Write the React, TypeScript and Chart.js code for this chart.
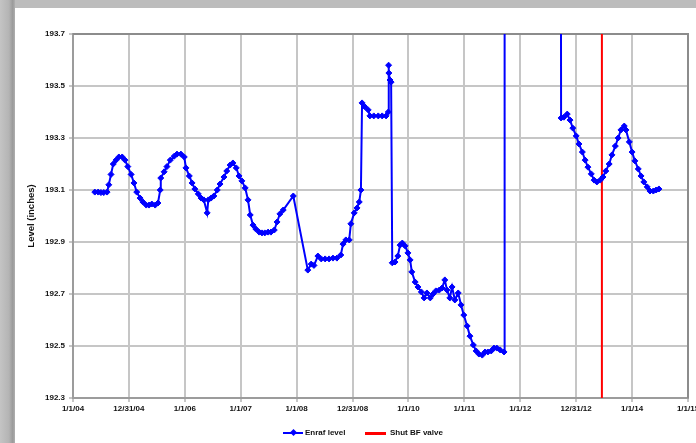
import React, { useEffect, useRef } from "react";
import { Chart, registerables } from "chart.js";

Chart.register(...registerables);

// Decimal years and levels (inches)
const enrafYears = [
  2004.39, 2004.45, 2004.5, 2004.55, 2004.61, 2004.64, 2004.68, 2004.72, 2004.77, 2004.82,
  2004.88, 2004.93, 2004.98, 2005.04, 2005.09, 2005.14, 2005.2, 2005.25, 2005.31, 2005.36,
  2005.41, 2005.47, 2005.52, 2005.56, 2005.57, 2005.63, 2005.68, 2005.74, 2005.81, 2005.86,
  2005.93, 2005.99, 2006.02, 2006.08, 2006.13, 2006.18, 2006.24, 2006.29, 2006.34, 2006.4,
  2006.42, 2006.47, 2006.52, 2006.58, 2006.63, 2006.7, 2006.75, 2006.81, 2006.86, 2006.92,
  2006.97, 2007.02, 2007.08, 2007.13, 2007.17, 2007.22, 2007.27, 2007.33, 2007.38, 2007.43,
  2007.49, 2007.54, 2007.6, 2007.65, 2007.7, 2007.76, 2007.94, 2008.2, 2008.26, 2008.31,
  2008.38, 2008.44, 2008.51, 2008.58, 2008.65, 2008.72, 2008.79, 2008.83, 2008.88, 2008.94,
  2008.97, 2009.03, 2009.08, 2009.12, 2009.15, 2009.17, 2009.22, 2009.28, 2009.31, 2009.38,
  2009.46, 2009.53, 2009.6, 2009.64, 2009.645, 2009.65, 2009.67, 2009.69, 2009.71, 2009.76,
  2009.81, 2009.85, 2009.89, 2009.94, 2009.99, 2010.03, 2010.06, 2010.12, 2010.17, 2010.23,
  2010.28, 2010.33, 2010.39, 2010.44, 2010.49, 2010.55, 2010.6, 2010.65, 2010.69, 2010.74,
  2010.78, 2010.83, 2010.89, 2010.94, 2010.99, 2011.05, 2011.1, 2011.16, 2011.21, 2011.26,
  2011.32, 2011.37, 2011.42, 2011.48, 2011.53, 2011.58, 2011.64, 2011.71, 2011.72, 2012.72,
  2012.73, 2012.78, 2012.84, 2012.89, 2012.94, 2013.0, 2013.05, 2013.11, 2013.16, 2013.21,
  2013.27, 2013.32, 2013.37, 2013.43, 2013.48, 2013.53, 2013.59, 2013.64, 2013.7, 2013.75,
  2013.8, 2013.86, 2013.89, 2013.95, 2014.0, 2014.05, 2014.11, 2014.16, 2014.21, 2014.27,
  2014.32, 2014.38, 2014.43, 2014.48,
];
const enrafLevels = [
  193.092, 193.092, 193.09, 193.09, 193.092, 193.12, 193.16, 193.2, 193.215, 193.227,
  193.227, 193.215, 193.19, 193.16, 193.127, 193.092, 193.069, 193.054, 193.042, 193.042,
  193.046, 193.042, 193.05, 193.1, 193.146, 193.17, 193.19, 193.215, 193.23, 193.238,
  193.238, 193.227, 193.185, 193.154, 193.127, 193.104, 193.085, 193.069, 193.062, 193.012,
  193.062, 193.069, 193.077, 193.1, 193.123, 193.15, 193.173, 193.196, 193.204, 193.185,
  193.154, 193.135, 193.108, 193.062, 193.004, 192.965, 192.95, 192.938, 192.935, 192.935,
  192.938, 192.938, 192.946, 192.977, 193.008, 193.023, 193.077, 192.792, 192.815, 192.81,
  192.846, 192.835, 192.835, 192.835, 192.838, 192.838, 192.85, 192.892, 192.908, 192.908,
  192.97, 193.012, 193.031, 193.054, 193.1, 193.435, 193.42, 193.408, 193.385, 193.385,
  193.385, 193.385, 193.385, 193.4, 193.58, 193.55, 193.523, 193.515, 192.82, 192.823,
  192.846, 192.888, 192.896, 192.885, 192.858, 192.831, 192.785, 192.746, 192.727, 192.708,
  192.685, 192.704, 192.685, 192.7, 192.712, 192.715, 192.723, 192.754, 192.715, 192.685,
  192.727, 192.677, 192.704, 192.658, 192.619, 192.577, 192.538, 192.504, 192.481, 192.469,
  192.465, 192.477, 192.477, 192.481, 192.492, 192.492, 192.485, 192.477, 195.5, 195.5,
  193.377, 193.38, 193.392, 193.369, 193.338, 193.308, 193.277, 193.246, 193.215, 193.188,
  193.162, 193.138, 193.131, 193.138, 193.15, 193.173, 193.2, 193.235, 193.269, 193.3,
  193.331, 193.346, 193.331, 193.285, 193.246, 193.212, 193.181, 193.154, 193.131, 193.112,
  193.096, 193.096, 193.1, 193.104,
];

const shutYears = [2013.46, 2013.46];
const shutLevels = [192.3, 193.7];

const xTickValues = [2004, 2005, 2006, 2007, 2008, 2009, 2010, 2011, 2012, 2013, 2014, 2015];
const xTickLabels = [
  "1/1/04", "12/31/04", "1/1/06", "1/1/07", "1/1/08", "12/31/08",
  "1/1/10", "1/1/11", "1/1/12", "12/31/12", "1/1/14", "1/1/15",
];
const yTickValues = [192.3, 192.5, 192.7, 192.9, 193.1, 193.3, 193.5, 193.7];
const yTickLabels = ["192.3", "192.5", "192.7", "192.9", "193.1", "193.3", "193.5", "193.7"];

const FONT = '"Liberation Sans", Arial, sans-serif';

export default function App() {
  const ref = useRef<HTMLCanvasElement>(null);

  useEffect(() => {
    document.body.style.margin = "0";
    const enrafData = enrafYears.map((x, i) => ({ x, y: enrafLevels[i] }));
    const shutData = shutYears.map((x, i) => ({ x, y: shutLevels[i] }));

    const frame = {
      id: "frame",
      beforeDatasetsDraw(chart: any) {
        const { ctx, chartArea } = chart;
        const { left, top, right, bottom } = chartArea;
        ctx.save();
        ctx.strokeStyle = "#8c8c8c";
        ctx.lineWidth = 2;
        ctx.beginPath();
        ctx.moveTo(left, top);
        ctx.lineTo(right, top);
        ctx.lineTo(right, bottom);
        ctx.stroke();
        ctx.restore();
      },
    };

    const chart = new Chart(ref.current!, {
      type: "line",
      data: {
        datasets: [
          {
            label: "Enraf level",
            data: enrafData,
            borderColor: "#0000ff",
            backgroundColor: "#0000ff",
            borderWidth: 2,
            pointStyle: "rectRot",
            pointRadius: 3,
            pointBorderWidth: 1,
            pointHoverRadius: 0,
            tension: 0,
          },
          {
            label: "Shut BF valve",
            data: shutData,
            borderColor: "#ff0000",
            backgroundColor: "#ff0000",
            borderWidth: 2,
            pointRadius: 0,
            pointHoverRadius: 0,
          },
        ],
      },
      options: {
        animation: false,
        responsive: false,
        devicePixelRatio: 1,
        events: [],
        layout: { padding: { left: 15, top: 34, right: 8, bottom: 0 } },
        plugins: { legend: { display: false }, tooltip: { enabled: false } },
        scales: {
          x: {
            type: "linear",
            min: 2004,
            max: 2015,
            afterBuildTicks: (s: any) => {
              s.ticks = xTickValues.map((v) => ({ value: v }));
            },
            afterFit: (s: any) => {
              s.height = 45;
              s.paddingLeft = 0;
              s.paddingRight = 0;
            },
            ticks: {
              autoSkip: false,
              maxRotation: 0,
              minRotation: 0,
              padding: 2,
              color: "#111",
              font: { family: FONT, size: 8, weight: "bold" },
              callback: (_v: any, i: number) => xTickLabels[i],
            },
            grid: { color: "#c6c6c6", lineWidth: 2, tickLength: 4 },
            border: { color: "#9c9c9c", width: 2 },
          },
          y: {
            type: "linear",
            min: 192.3,
            max: 193.7,
            afterBuildTicks: (s: any) => {
              s.ticks = yTickValues.map((v) => ({ value: v }));
            },
            afterFit: (s: any) => {
              s.width = 58;
            },
            ticks: {
              padding: 4,
              color: "#111",
              font: { family: FONT, size: 8, weight: "bold" },
              callback: (_v: any, i: number) => yTickLabels[i],
            },
            grid: { color: "#c6c6c6", lineWidth: 2, tickLength: 4 },
            border: { color: "#9c9c9c", width: 2 },
            title: {
              display: true,
              text: "Level (inches)",
              color: "#111",
              font: { family: FONT, size: 9.5, weight: "bold" },
              padding: { top: 11, bottom: 0 },
            },
          },
        },
      },
      plugins: [frame],
    } as any);
    return () => chart.destroy();
  }, []);

  const legendText: React.CSSProperties = {
    position: "absolute",
    top: 428,
    font: `bold 8px ${FONT}`,
    color: "#111",
    lineHeight: "10px",
    whiteSpace: "nowrap",
  };

  return (
    <div
      style={{
        position: "relative",
        width: 696,
        height: 443,
        overflow: "hidden",
        background: "#bcbcbc",
      }}
    >
      <div
        style={{
          position: "absolute",
          left: 0,
          top: 0,
          width: 15,
          height: 443,
          background: "linear-gradient(to right, #c4c4c4 0%, #b4b4b4 60%, #9a9a9a 85%, #b0b0b0 100%)",
        }}
      />
      <div
        style={{
          position: "absolute",
          left: 15,
          top: 8,
          width: 681,
          height: 435,
          background: "#ffffff",
        }}
      />
      <canvas
        ref={ref}
        width={696}
        height={443}
        style={{ position: "absolute", left: 0, top: 0, width: 696, height: 443 }}
      />
      <div style={{ position: "absolute", left: 283, top: 432, width: 20, height: 2, background: "#0000ff" }} />
      <div
        style={{
          position: "absolute",
          left: 291,
          top: 430,
          width: 5,
          height: 5,
          background: "#0000ff",
          transform: "rotate(45deg)",
        }}
      />
      <div style={{ ...legendText, left: 305 }}>Enraf level</div>
      <div style={{ position: "absolute", left: 365, top: 432, width: 21, height: 3, background: "#ff0000" }} />
      <div style={{ ...legendText, left: 390 }}>Shut BF valve</div>
    </div>
  );
}
